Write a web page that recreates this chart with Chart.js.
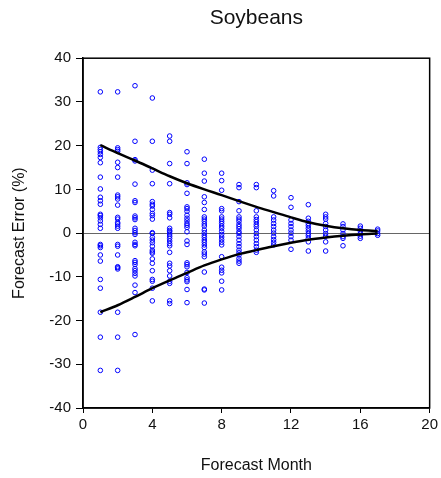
<!DOCTYPE html>
<html>
<head>
<meta charset="utf-8">
<script src="https://cdn.jsdelivr.net/npm/chart.js@4"></script>
<style>
  html, body { margin: 0; padding: 0; background: #fff; }
  #wrap { width: 441px; height: 478px; }
</style>
</head>
<body>
<div id="wrap"><canvas id="chart" width="441" height="478"></canvas></div>
<script>
// forecast months (x) and the errors observed at each month, in %
const months = [1, 2, 3, 4, 5, 6, 7, 8, 9, 10, 11, 12, 13, 14, 15, 16, 17];

const errM1 = [32.3, 19.6, 19.1, 18.6, 18.0, 17.3, 16.1, 12.8, 10.1, 8.2, 7.4, 6.6, 4.3, 4.0, 3.5, 2.8, 2.0, 1.1, -2.6, -2.9, -3.3, -5.0, -6.4, -10.6, -12.6, -18.1, -23.8, -31.4];
const errM2 = [32.3, 19.5, 19.1, 18.7, 16.2, 15.0, 12.8, 8.7, 8.3, 7.8, 6.4, 3.6, 3.2, 2.4, 2.1, 1.6, 1.1, -2.6, -3.0, -5.0, -7.7, -7.9, -8.2, -18.1, -23.8, -31.4];
const errM3 = [33.7, 21.0, 16.8, 16.5, 11.2, 7.4, 7.0, 3.9, 3.5, 3.1, 1.1, 0.6, 0.1, -0.3, -2.1, -2.6, -2.9, -6.3, -6.7, -7.2, -8.1, -8.6, -9.2, -9.8, -11.9, -13.6, -23.2];
const errM4 = [30.9, 21.0, 14.4, 11.3, 7.2, 6.6, 6.2, 5.4, 4.5, 4.0, 3.2, 0.1, -0.1, -1.0, -1.6, -2.2, -3.0, -3.9, -4.3, -4.6, -5.9, -6.9, -8.6, -10.6, -11.0, -12.6, -15.5];
const errM5 = [22.2, 21.0, 15.9, 11.3, 4.7, 4.3, 3.5, 1.1, 0.6, 0.3, -0.2, -0.7, -1.2, -1.8, -2.4, -2.9, -4.4, -6.9, -7.5, -8.6, -9.8, -11.0, -11.5, -15.5, -16.1];
const errM6 = [18.6, 15.9, 11.5, 11.1, 9.1, 6.0, 5.6, 5.0, 4.1, 3.4, 2.8, 2.2, 1.8, 1.3, 0.3, -1.8, -2.6, -6.8, -7.2, -7.7, -9.0, -10.2, -10.7, -11.1, -12.9, -15.9];
const errM7 = [16.9, 13.7, 11.9, 8.3, 7.0, 5.4, 3.7, 3.2, 2.7, 2.1, 1.6, 0.7, 0.1, -0.5, -1.0, -1.6, -2.1, -2.7, -3.3, -4.3, -4.8, -5.4, -8.9, -12.8, -13.0, -16.0];
const errM8 = [13.7, 12.0, 9.8, 5.6, 5.1, 3.7, 3.2, 2.7, 2.2, 1.6, 1.1, 0.4, -0.3, -0.9, -1.5, -2.1, -2.7, -5.4, -7.8, -8.5, -9.1, -11.0, -13.0];
const errM9 = [11.1, 10.4, 7.2, 5.1, 3.7, 3.2, 2.7, 2.0, 1.5, 1.0, 0.3, -0.1, -0.8, -1.6, -2.4, -3.1, -3.9, -4.5, -5.0, -5.8, -6.4, -6.9];
const errM10 = [11.1, 10.4, 5.1, 3.7, 3.1, 2.6, 2.0, 1.5, 0.7, -0.1, -0.8, -1.6, -2.4, -3.1, -3.9, -4.4];
const errM11 = [9.7, 8.5, 3.7, 3.0, 2.2, 1.5, 0.7, 0.0, -0.8, -1.5, -2.1, -2.7];
const errM12 = [8.1, 5.9, 3.0, 2.2, 1.5, 0.7, 0.0, -0.8, -1.6, -3.7];
const errM13 = [6.5, 3.4, 2.7, 2.2, 1.7, 1.1, 0.5, -0.1, -0.6, -1.2, -2.0, -4.1];
const errM14 = [4.3, 3.7, 3.2, 2.2, 1.5, 0.7, -0.1, -0.7, -2.0, -4.1];
const errM15 = [2.1, 1.5, 0.7, -0.1, -0.8, -1.2, -2.9];
const errM16 = [1.6, 1.1, 0.5, -0.1, -0.7, -1.2];
const errM17 = [0.9, 0.5, -0.1, -0.5];

const errorsByMonth = [errM1, errM2, errM3, errM4, errM5, errM6, errM7, errM8, errM9,
    errM10, errM11, errM12, errM13, errM14, errM15, errM16, errM17];

// error bands drawn as the two black curves
const upperBand = [20.1, 18.3, 16.6, 14.8, 13.0, 11.4, 10.0, 8.7, 7.3, 6.0, 4.8, 3.6, 2.5, 1.7, 1.1, 0.7, 0.5];
const lowerBand = [-18.1, -16.5, -14.6, -12.6, -10.8, -9.1, -7.4, -6.0, -4.8, -3.9, -3.0, -2.2, -1.5, -1.0, -0.6, -0.3, -0.1];

const xTicks = [0, 4, 8, 12, 16, 20];
const yTicks = [-40, -30, -20, -10, 0, 10, 20, 30, 40];

const scatterPoints = [];
months.forEach((m, i) => {
    errorsByMonth[i].forEach(v => scatterPoints.push({ x: m, y: v }));
});

const family = 'Liberation Sans, Arial, sans-serif';
const tickFont = { family: family, size: 15 };
const axisTitleFont = { family: family, size: 16 };

// frame around the plot area (top and right sides)
const framePlugin = {
    id: 'frame',
    afterDatasetsDraw(chart) {
        const { ctx, chartArea: a } = chart;
        ctx.save();
        ctx.strokeStyle = '#000';
        ctx.lineWidth = 1.5;
        ctx.strokeRect(a.left, a.top, a.right - a.left, a.bottom - a.top);
        ctx.restore();
    }
};

new Chart(document.getElementById('chart'), {
    type: 'scatter',
    data: {
        datasets: [
            {
                label: 'Errors',
                data: scatterPoints,
                pointStyle: 'circle',
                pointRadius: 2.3,
                pointBorderWidth: 1,
                pointBorderColor: '#0000ff',
                pointBackgroundColor: 'rgba(0,0,0,0)',
                order: 2
            },
            {
                label: 'Upper',
                data: months.map((m, i) => ({ x: m, y: upperBand[i] })),
                showLine: true,
                borderColor: '#000',
                borderWidth: 2.5,
                pointRadius: 0,
                cubicInterpolationMode: 'monotone',
                order: 1
            },
            {
                label: 'Lower',
                data: months.map((m, i) => ({ x: m, y: lowerBand[i] })),
                showLine: true,
                borderColor: '#000',
                borderWidth: 2.5,
                pointRadius: 0,
                cubicInterpolationMode: 'monotone',
                order: 1
            }
        ]
    },
    options: {
        responsive: false,
        animation: false,
        layout: { padding: { left: 0, right: 10, top: 0, bottom: 0 } },
        plugins: {
            legend: { display: false },
            tooltip: { enabled: false },
            title: {
                display: true,
                fullSize: false,
                text: 'Soybeans',
                color: '#111',
                font: { family: family, size: 21, weight: 'normal' },
                padding: { top: 6, bottom: 27 }
            }
        },
        scales: {
            x: {
                type: 'linear',
                min: 0,
                max: 20,
                afterBuildTicks: s => { s.ticks = xTicks.map(v => ({ value: v })); },
                afterFit: s => { s.height = 70; },
                ticks: { color: '#111', font: tickFont, padding: 3, maxRotation: 0 },
                grid: { drawOnChartArea: false, tickLength: 5, tickColor: '#000' },
                border: { color: '#000', width: 1.5 },
                title: {
                    display: true,
                    text: 'Forecast Month',
                    color: '#111',
                    font: axisTitleFont,
                    padding: { top: 0, bottom: 3 }
                }
            },
            y: {
                type: 'linear',
                min: -40,
                max: 40,
                afterBuildTicks: s => { s.ticks = yTicks.map(v => ({ value: v })); },
                afterFit: s => { s.width = 83; },
                ticks: { color: '#111', font: tickFont, padding: 5 },
                grid: {
                    drawOnChartArea: true,
                    tickLength: 7,
                    tickColor: '#000',
                    color: c => (c.tick && c.tick.value === 0 ? '#666' : 'rgba(0,0,0,0)'),
                    lineWidth: 1
                },
                border: { color: '#000', width: 1.5 },
                title: {
                    display: true,
                    text: 'Forecast Error (%)',
                    color: '#111',
                    font: axisTitleFont,
                    padding: { top: 10, bottom: 0 }
                }
            }
        }
    },
    plugins: [framePlugin]
});
</script>
</body>
</html>
